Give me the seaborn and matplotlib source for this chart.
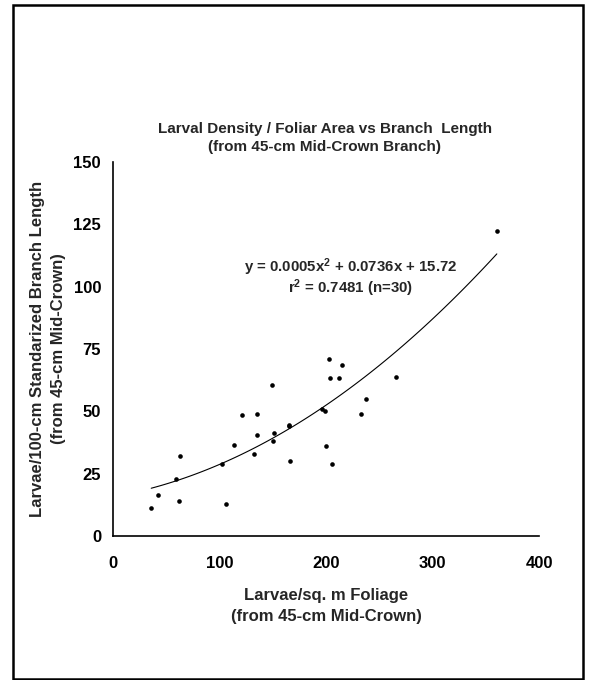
import matplotlib
matplotlib.use("Agg")
import matplotlib.pyplot as plt
import seaborn as sns
import pandas as pd
from matplotlib.patches import Rectangle

# Data
larvae_per_sqm = [35.9, 42.3, 61.6, 58.7, 63.0, 106.0, 102.5, 114.0, 120.8, 132.7,
                  135.2, 135.2, 149.5, 151.4, 150.5, 165.1, 165.7, 166.5, 196.2, 199.4,
                  200.4, 206.0, 202.5, 203.8, 212.0, 215.0, 232.5, 237.5, 266.0, 360.4]
larvae_per_100cm = [11.4, 16.4, 13.9, 23.0, 32.0, 12.9, 28.9, 36.6, 48.4, 33.0,
                    49.1, 40.4, 60.5, 41.2, 38.2, 44.7, 44.3, 29.9, 51.0, 50.2,
                    36.2, 28.8, 71.1, 63.3, 63.5, 68.6, 49.1, 54.8, 63.9, 122.5]
x_ticks = [0, 100, 200, 300, 400]
y_ticks = [0, 25, 50, 75, 100, 125, 150]

title = "Larval Density / Foliar Area vs Branch  Length\n(from 45-cm Mid-Crown Branch)"
x_label = "Larvae/sq. m Foliage\n(from 45-cm Mid-Crown)"
y_label = "Larvae/100-cm Standarized Branch Length\n(from 45-cm Mid-Crown)"
eq_line1 = r"y = 0.0005x$^2$ + 0.0736x + 15.72"
eq_line2 = r"r$^2$ = 0.7481 (n=30)"

df = pd.DataFrame({"x": larvae_per_sqm, "y": larvae_per_100cm})

sns.set_style("white")
plt.rcParams["font.family"] = ["Liberation Sans", "DejaVu Sans"]
plt.rcParams["font.weight"] = "bold"
plt.rcParams["mathtext.default"] = "regular"

fig = plt.figure(figsize=(5.95, 6.8), dpi=100)
ax = fig.add_axes([113 / 595, 1 - 536 / 680, 426 / 595, 374 / 680])

sns.regplot(data=df, x="x", y="y", order=2, ci=None, scatter=False, truncate=True,
            line_kws={"color": "black", "lw": 0.8}, ax=ax)
sns.scatterplot(data=df, x="x", y="y", color="black", s=11, edgecolor="black",
                linewidth=0, ax=ax, zorder=3)

ax.set_xlim(0, 400)
ax.set_ylim(0, 150)
ax.set_xticks(x_ticks)
ax.set_yticks(y_ticks)
ax.tick_params(axis="both", direction="out", length=3.6, width=1.2, labelsize=12,
               colors="black")
ax.tick_params(axis="x", pad=11)
ax.tick_params(axis="y", pad=5)
for lab in ax.get_xticklabels() + ax.get_yticklabels():
    lab.set_fontweight("bold")
for s in ["top", "right"]:
    ax.spines[s].set_visible(False)
for s in ["left", "bottom"]:
    ax.spines[s].set_color("black")
    ax.spines[s].set_linewidth(1.2)

ax.set_xlabel(x_label, fontsize=12, fontweight="bold", labelpad=12, linespacing=1.5)
ax.set_ylabel(y_label, fontsize=12, fontweight="bold", labelpad=5, linespacing=1.5)

fig.text(325 / 595, 1 - 138 / 680, title, ha="center", va="center", fontsize=11,
         fontweight="bold", linespacing=1.35)

ax.text(223.5, 108, eq_line1, ha="center", va="center", fontsize=10.8, fontweight="bold")
ax.text(223.5, 99.2, eq_line2, ha="center", va="center", fontsize=10.8, fontweight="bold")

fig.patches.append(Rectangle((13 / 595, 1 / 680), 570 / 595, 674 / 680,
                             transform=fig.transFigure, fill=False,
                             edgecolor="black", linewidth=1.8))

fig.savefig("out.png", dpi=100)
